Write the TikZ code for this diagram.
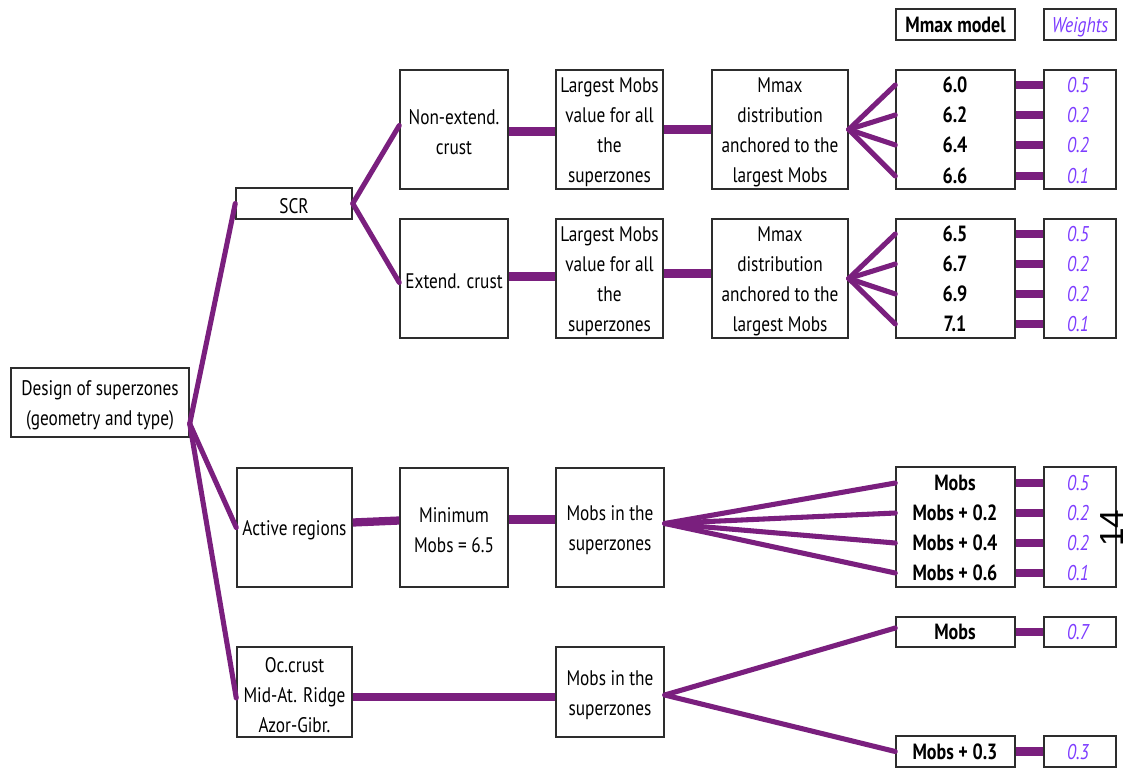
\documentclass[tikz,border=0pt]{standalone}
\usepackage{fontspec}
\setmainfont[FakeStretch=0.82]{PT Sans}
\newfontfamily\pgfont{Liberation Sans}
\usetikzlibrary{fit,calc}
\definecolor{lk}{RGB}{122,31,126}
\definecolor{wt}{RGB}{125,60,255}
\definecolor{bd}{RGB}{45,45,45}
\begin{document}
\begin{tikzpicture}[x=0.75pt,y=-0.75pt,
  box/.style={draw=bd, line width=1.1pt, inner sep=0pt},
  txt/.style={align=center, inner sep=0pt, yshift=-2.2pt, font=\fontsize{15.8}{22.5}\selectfont},
  val/.style={font=\bfseries\fontsize{16.5}{22.5}\selectfont, inner sep=0pt},
  wgt/.style={font=\itshape\fontsize{16}{22.5}\selectfont, text=wt, inner sep=0pt},
  lnk/.style={draw=lk, line width=3.8pt, line cap=round},
  hlnk/.style={draw=lk, line width=6.2pt},
]
\useasboundingbox (0,0) rectangle (1134,771);

% ---- boxes
\node[box, fit={(11,368) (189,437)}] (design) {};
\node[box, fit={(236,188) (352,219)}] (scr) {};
\node[box, fit={(400,70) (508,189)}] (ne) {};
\node[box, fit={(556,70) (663,189)}] (lm1) {};
\node[box, fit={(712,70) (848,189)}] (mm1) {};
\node[box, fit={(400,219) (508,338)}] (ex) {};
\node[box, fit={(556,219) (663,338)}] (lm2) {};
\node[box, fit={(712,219) (848,338)}] (mm2) {};
\node[box, fit={(237,468) (352,587)}] (ar) {};
\node[box, fit={(400,468) (508,587)}] (mn) {};
\node[box, fit={(556,468) (664,587)}] (ms1) {};
\node[box, fit={(237,647) (352,737)}] (oc) {};
\node[box, fit={(556,647) (664,737)}] (ms2) {};
\node[box, fit={(896,9) (1015,40)}] (hm) {};
\node[box, fit={(1044,9) (1116,40)}] (hw) {};

% ---- box texts
\node[txt] (tdesign) at (design.center) {Design of superzones\\(geometry and type)};
\node[txt] (tscr) at (scr.center) {SCR};
\node[txt] (tne) at (ne.center) {Non-extend.\\crust};
\node[txt] (tlm1) at (lm1.center) {Largest Mobs\\value for all\\the\\superzones};
\node[txt] (tmm1) at (mm1.center) {Mmax\\distribution\\anchored to the\\largest Mobs};
\node[txt] (tex) at (ex.center) {Extend. crust};
\node[txt] (tlm2) at (lm2.center) {Largest Mobs\\value for all\\the\\superzones};
\node[txt] (tmm2) at (mm2.center) {Mmax\\distribution\\anchored to the\\largest Mobs};
\node[txt] (tar) at (ar.center) {Active regions};
\node[txt] (tmn) at (mn.center) {Minimum\\Mobs = 6.5};
\node[txt] (tms1) at (ms1.center) {Mobs in the\\superzones};
\node[txt] (toc) at (oc.center) {Oc.crust\\Mid-At. Ridge\\Azor-Gibr.};
\node[txt] (tms2) at (ms2.center) {Mobs in the\\superzones};
\node[val] (thm) at (hm.center) {Mmax model};
\node[wgt, yshift=-2pt] (thw) at (hw.center) {Weights};

% ---- value / weight boxes
\node[box, fit={(896,70) (1015,189)}] (v1) {};
\node[box, fit={(1044,70) (1116,189)}] (w1) {};
\node[box, fit={(896,219) (1015,338)}] (v2) {};
\node[box, fit={(1044,219) (1116,338)}] (w2) {};
\node[box, fit={(896,467) (1015,587)}] (v3) {};
\node[box, fit={(1044,467) (1116,587)}] (w3) {};
\node[box, fit={(896,617) (1015,647)}] (v4) {};
\node[box, fit={(1044,617) (1116,647)}] (w4) {};
\node[box, fit={(896,736) (1015,767)}] (v5) {};
\node[box, fit={(1044,736) (1116,767)}] (w5) {};

% values
\node[val] (a1) at (955,85) {6.0};
\node[val] (a2) at (955,115) {6.2};
\node[val] (a3) at (955,145) {6.4};
\node[val] (a4) at (955,176) {6.6};
\node[val] (b1) at (955,234) {6.5};
\node[val] (b2) at (955,264) {6.7};
\node[val] (b3) at (955,294) {6.9};
\node[val] (b4) at (955,324) {7.1};
\node[val] (c1) at (955,483) {Mobs};
\node[val] (c2) at (955,513) {Mobs + 0.2};
\node[val] (c3) at (955,543) {Mobs + 0.4};
\node[val] (c4) at (955,573) {Mobs + 0.6};
\node[val] (d1) at (955,632) {Mobs};
\node[val] (e1) at (955,752) {Mobs + 0.3};

% weights
\node[wgt] (wa1) at (1078,85) {0.5};
\node[wgt] (wa2) at (1078,115) {0.2};
\node[wgt] (wa3) at (1078,145) {0.2};
\node[wgt] (wa4) at (1078,176) {0.1};
\node[wgt] (wb1) at (1078,234) {0.5};
\node[wgt] (wb2) at (1078,264) {0.2};
\node[wgt] (wb3) at (1078,294) {0.2};
\node[wgt] (wb4) at (1078,324) {0.1};
\node[wgt] (wc1) at (1078,483) {0.5};
\node[wgt] (wc2) at (1078,513) {0.2};
\node[wgt] (wc3) at (1078,543) {0.2};
\node[wgt] (wc4) at (1078,573) {0.1};
\node[wgt] (wd1) at (1078,632) {0.7};
\node[wgt] (we1) at (1078,752) {0.3};

% page number
\node[rotate=90, font=\pgfont\fontsize{25}{25}\selectfont, inner sep=0pt] (pg) at (1112,528) {14};

% ---- connectors
\coordinate (dsrc) at ($(design.south east)+(0,-14)$);
\draw[lnk] (dsrc) -- (scr.west);
\draw[lnk] (dsrc) -- (ar.west);
\draw[lnk] (dsrc) -- ($(oc.west)+(0,6)$);
\draw[lnk] (scr.east) -- ($(ne.west)+(0,-4)$);
\draw[lnk] (scr.east) -- ($(ex.west)+(0,4)$);

\draw[hlnk] ($(ne.east)+(0,2)$) -- ($(lm1.west)+(0,2)$);
\draw[hlnk] (lm1.east) -- (mm1.west);
\draw[hlnk] ($(ex.east)+(0,-2)$) -- ($(lm2.west)+(0,-2)$);
\draw[hlnk] ($(lm2.east)+(0,-5)$) -- ($(mm2.west)+(0,-5)$);
\draw[hlnk] ($(ar.east)+(0,-5)$) -- ($(mn.west)+(0,-7)$);
\draw[hlnk] ($(mn.east)+(0,-8)$) -- ($(ms1.west)+(0,-8)$);
\draw[hlnk] ($(oc.east)+(0,5)$) -- ($(ms2.west)+(0,5)$);

\foreach \t in {a1,a2,a3,a4} \draw[lnk] (mm1.east) -- (v1.west |- \t);
\foreach \t in {b1,b2,b3,b4} \draw[lnk] (mm2.east) -- (v2.west |- \t);
\coordinate (m1src) at ($(ms1.east)+(0,-4)$);
\foreach \t in {c1,c2,c3,c4} \draw[lnk] (m1src) -- (v3.west |- \t);
\coordinate (m2src) at ($(ms2.east)+(0,3)$);
\draw[lnk] (m2src) -- ($(v4.west)+(0,-4)$);
\draw[lnk] (m2src) -- (v5.west);

\foreach \t in {a1,a2,a3,a4} \draw[hlnk] (v1.east |- \t) -- (w1.west |- \t);
\foreach \t in {b1,b2,b3,b4} \draw[hlnk] (v2.east |- \t) -- (w2.west |- \t);
\foreach \t in {c1,c2,c3,c4} \draw[hlnk] (v3.east |- \t) -- (w3.west |- \t);
\draw[hlnk] (v4.east) -- (w4.west);
\draw[hlnk] (v5.east) -- (w5.west);
\end{tikzpicture}
\end{document}
